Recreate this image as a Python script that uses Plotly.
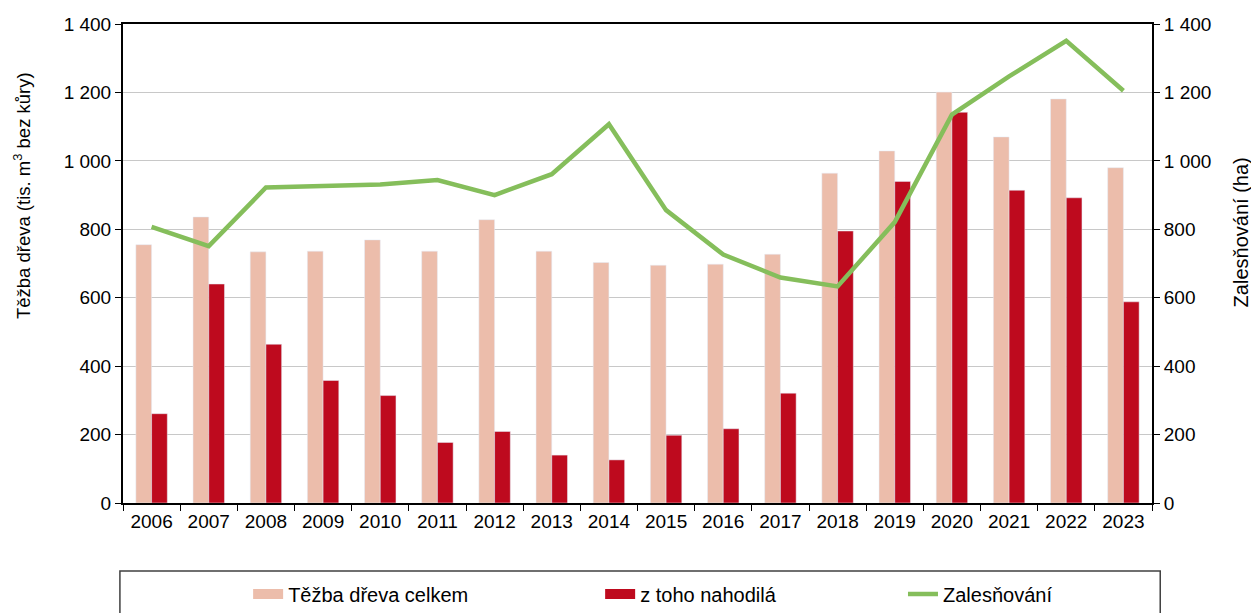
import plotly.graph_objects as go

roky = [str(r) for r in range(2006, 2024)]
tezba_celkem = [755, 836, 734, 736, 769, 736, 828, 736, 703, 695, 698, 727, 964, 1029, 1201, 1070, 1181, 980]
tezba_nahodila = [261, 640, 464, 358, 314, 177, 209, 140, 126, 198, 217, 321, 795, 940, 1142, 914, 892, 588]
zalesnovani = [807, 751, 922, 926, 931, 944, 900, 961, 1107, 856, 726, 659, 633, 821, 1135, 1247, 1351, 1205]

font = "Liberation Sans, Arial, sans-serif"
fs = 19
barva_celkem = "#ECBDAB"
barva_nahodila = "#BE0A1E"
barva_zal = "#85BE5B"

fig = go.Figure()
fig.add_trace(go.Bar(x=roky, y=tezba_celkem, name="Těžba dřeva celkem",
                     marker_color=barva_celkem, showlegend=False))
fig.add_trace(go.Bar(x=roky, y=tezba_nahodila, name="z toho nahodilá",
                     marker_color=barva_nahodila, showlegend=False))
fig.add_trace(go.Scatter(x=roky, y=zalesnovani, name="Zalesňování", yaxis="y2",
                         mode="lines", line=dict(color=barva_zal, width=4.5),
                         legend="legend3"))
# obdelnikove znacky do legendy (jako v Excelu)
fig.add_trace(go.Scatter(x=[None], y=[None], mode="lines", name="Těžba dřeva celkem",
                         line=dict(color=barva_celkem, width=12), legend="legend"))
fig.add_trace(go.Scatter(x=[None], y=[None], mode="lines", name="z toho nahodilá",
                         line=dict(color=barva_nahodila, width=12), legend="legend2"))

leg = dict(orientation="h", yanchor="middle", y=-0.19, xanchor="left",
           font=dict(size=20, color="#000000", family=font), bgcolor="rgba(0,0,0,0)")

# stranka ma okraj 8 px, proto je graf o 8 px mensi a okraje posunute
fig.update_layout(
    width=1251, height=605,
    margin=dict(l=115, r=107, t=16, b=110, autoexpand=False),
    paper_bgcolor="white", plot_bgcolor="white",
    font=dict(family=font, size=fs, color="#000000"),
    separators=", ",
    showlegend=True,
    barmode="group", bargap=0.45, bargroupgap=0,
    xaxis=dict(type="category", showline=True, linecolor="#000000", linewidth=2, mirror=True,
               ticks="outside", tickson="boundaries", ticklen=6, tickcolor="#000000",
               tickfont=dict(size=fs), automargin=False),
    yaxis=dict(range=[0, 1400], dtick=200, separatethousands=True, showline=True,
               linecolor="#000000", linewidth=2, ticks="outside", ticklen=6,
               tickcolor="#000000", gridcolor="#C8C8C8", gridwidth=1,
               tickfont=dict(size=fs), automargin=False),
    yaxis2=dict(range=[0, 1400], dtick=200, separatethousands=True, overlaying="y", side="right",
                showline=True, linecolor="#000000", linewidth=2, ticks="outside", ticklen=6,
                tickcolor="#000000", showgrid=False, tickfont=dict(size=fs), automargin=False),
    annotations=[
        dict(text="Těžba dřeva (tis. m<sup>3</sup> bez kůry)", xref="paper", yref="paper",
             x=-0.098, y=0.641, textangle=-90, showarrow=False, font=dict(size=18.5),
             xanchor="center", yanchor="middle"),
        dict(text="Zalesňování (ha)", xref="paper", yref="paper", x=1.086, y=0.566,
             textangle=-90, showarrow=False, font=dict(size=20),
             xanchor="center", yanchor="middle"),
    ],
    legend=dict(leg, x=0.1216),
    legend2=dict(leg, x=0.4637),
    legend3=dict(leg, x=0.758),
    shapes=[dict(type="rect", xref="paper", yref="paper", x0=-0.003, x1=1.008, y0=-0.26, y1=-0.142,
                 line=dict(color="#404040", width=1.5), fillcolor="rgba(0,0,0,0)", layer="below")],
)

fig.write_html("out.html")
